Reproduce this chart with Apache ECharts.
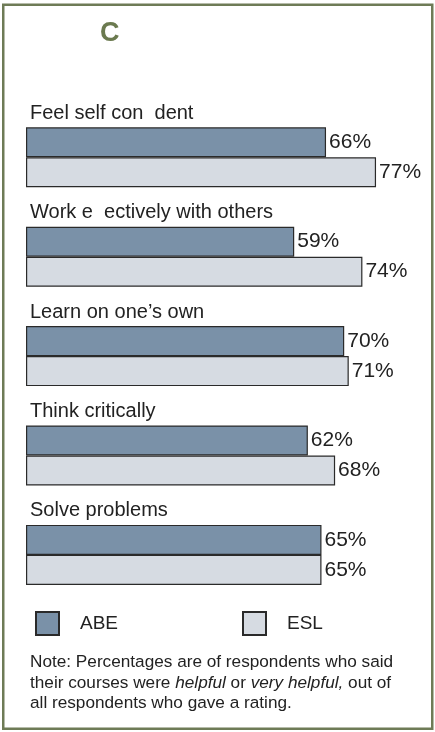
<!DOCTYPE html>
<html><head><meta charset="utf-8">
<script src="https://cdn.jsdelivr.net/npm/echarts@6/dist/echarts.min.js"></script>
<style>html,body{margin:0;padding:0;background:#fff}#c{width:435px;height:732px}</style>
</head><body><div id="c"></div>
<script>
const categories = ['Feel self con  dent', 'Work e  ectively with others', 'Learn on one\u2019s own', 'Think critically', 'Solve problems'];
const abeValues = [66, 59, 70, 62, 65];
const eslValues = [77, 74, 71, 68, 65];
const seriesNames = ['ABE', 'ESL'];
const titleText = 'C';
const noteLines = [
  'Note: Percentages are of respondents who said',
  'their courses were {i|helpful} or {i|very helpful,} out of',
  'all respondents who gave a rating.'
];

const FONT = '"Liberation Sans", Arial, sans-serif';
const TXT = '#222';
const chart = echarts.init(document.getElementById('c'), null, {renderer: 'canvas'});

const legendBase = {
  orient: 'horizontal', top: 611, itemWidth: 23, itemHeight: 23, padding: 0, icon: 'rect',
  textStyle: {fontSize: 19, fontFamily: FONT, color: TXT, padding: [8, 0, 0, 16]}
};

const option = {
  animation: false,
  backgroundColor: '#fff',
  grid: {left: 26, right: 22.6, top: 107.6, bottom: 127.4, containLabel: false},
  xAxis: {type: 'value', min: 0, max: 85, show: false},
  yAxis: {
    type: 'category', data: categories, inverse: true,
    axisLine: {show: false}, axisTick: {show: false}, splitLine: {show: false},
    axisLabel: {inside: true, margin: 4, fontSize: 20, fontFamily: FONT, color: TXT,
      verticalAlign: 'bottom', padding: [0, 0, 34, 0]}
  },
  legend: [
    Object.assign({}, legendBase, {data: [seriesNames[0]], left: 35}),
    Object.assign({}, legendBase, {data: [seriesNames[1]], left: 242})
  ],
  series: [
    {name: seriesNames[0], type: 'bar', data: abeValues, barWidth: 30, barGap: '0%',
      itemStyle: {color: '#7a91a8', borderColor: '#2a2a2a', borderWidth: 1.2},
      label: {show: true, position: 'right', distance: 3, formatter: '{c}%', fontSize: 21, fontFamily: FONT, color: TXT}},
    {name: seriesNames[1], type: 'bar', data: eslValues, barWidth: 30, barGap: '0%',
      itemStyle: {color: '#d6dbe2', borderColor: '#2a2a2a', borderWidth: 1.2},
      label: {show: true, position: 'right', distance: 3, formatter: '{c}%', fontSize: 21, fontFamily: FONT, color: TXT}}
  ],
  graphic: [
    {type: 'rect', z: 100, shape: {x: 3.25, y: 4.75, width: 429, height: 724},
      style: {fill: 'transparent', stroke: '#6e7b56', lineWidth: 2.5}},
    {type: 'text', x: 100, y: 34, style: {text: titleText, fontSize: 27, fontWeight: 'bold', fontFamily: FONT, fill: '#6b7a4f', verticalAlign: 'middle', align: 'left'}}
  ].concat(noteLines.map((t, i) => ({
    type: 'text', x: 30, y: 662.5 + i * 20.6,
    style: {text: t, fontSize: 17.2, fontFamily: FONT, fill: TXT, verticalAlign: 'middle', align: 'left',
      rich: {i: {fontStyle: 'italic', fontSize: 17.2, fontFamily: FONT, fill: TXT}}}
  })))
};
chart.setOption(option);
</script></body></html>
